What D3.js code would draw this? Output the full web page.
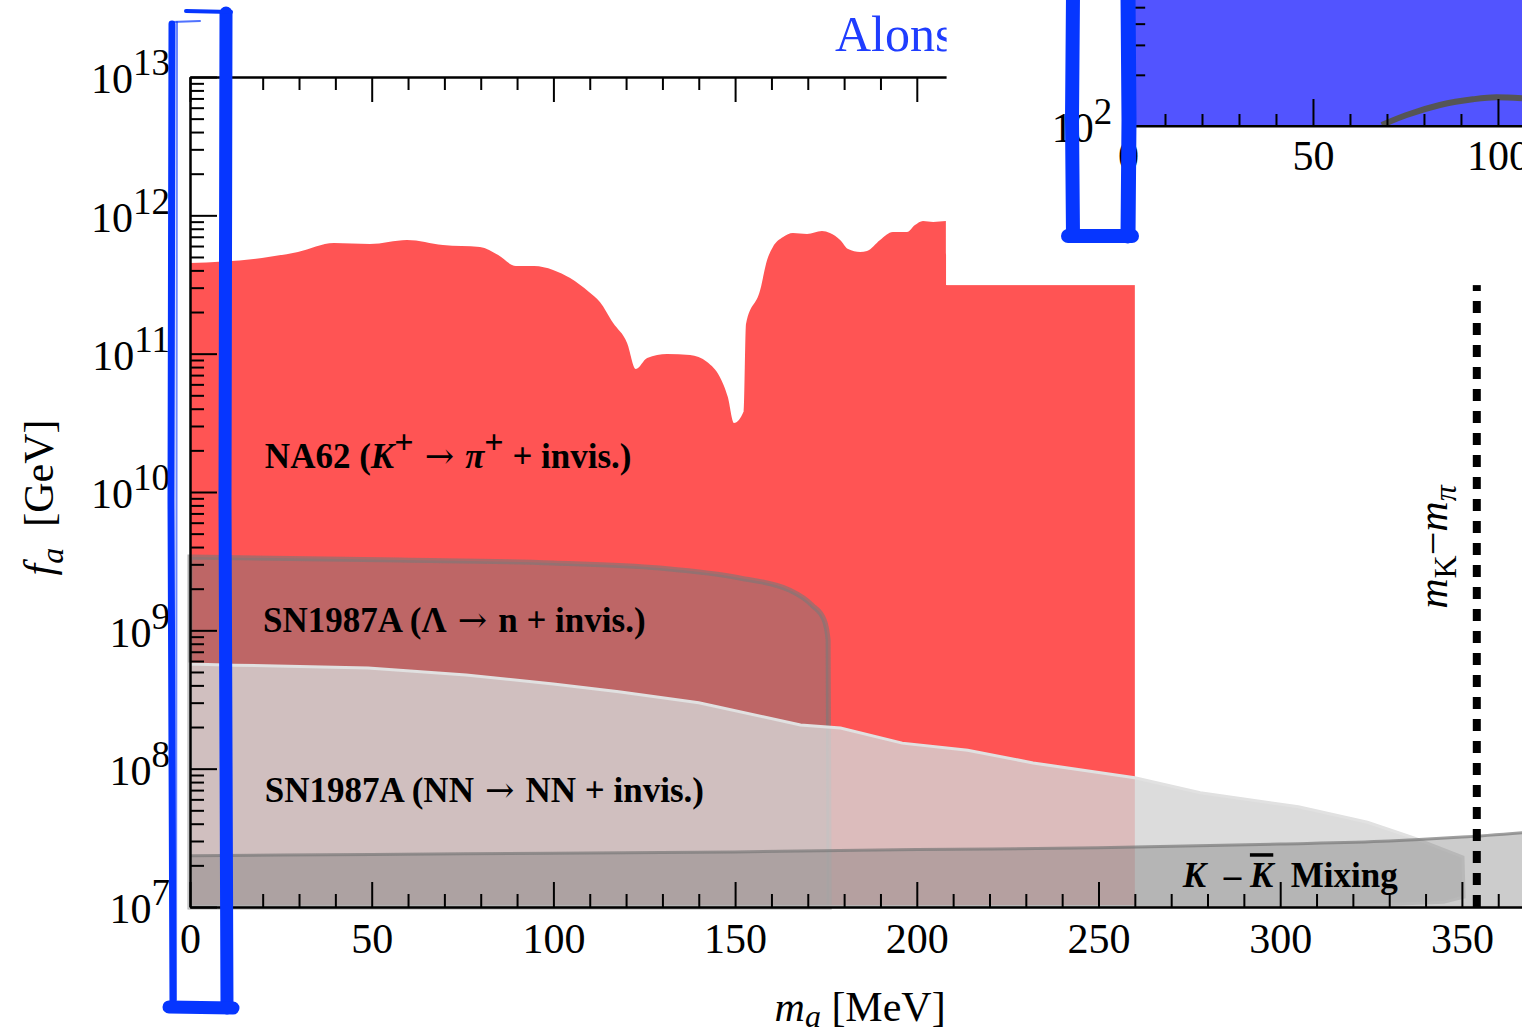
<!DOCTYPE html>
<html>
<head>
<meta charset="utf-8">
<script src="https://cdn.jsdelivr.net/npm/d3@7"></script>
<style>
  body { margin: 0; background: #fff; }
  svg { display: block; font-family: "Liberation Serif", "Times New Roman", serif; }
  .axis path, .axis line { stroke: #000; stroke-width: 2; }
  .arrow { font-family: "DejaVu Serif", serif; font-weight: normal; }
</style>
</head>
<body>
<div id="chart"></div>
<script>
// ---- data (m_a in MeV, f_a in GeV) ----
const na62Mass = [0, 19.8, 29.7, 39.6, 49.5, 59.7, 69.6, 79.8, 84.8, 89.7, 94.7, 99.9, 104.6, 109.8, 112.8, 116.4, 120.3, 122.7,
                  125.8, 131.3, 137.6, 142.3, 145.8, 148.0, 149.7, 152.4, 153.0, 156.9, 158.8, 160.4, 163.2, 165.9, 169.8, 173.9,
                  176.1, 178.9, 181.1, 184.4, 186.3, 189.9, 193.4, 197.3, 199.5, 201.7, 204.5, 208.0, 208.1, 260];
const na62Fa = [4.52e11, 4.92e11, 5.44e11, 6.31e11, 6.21e11, 6.64e11, 6.11e11, 5.91e11, 5.17e11, 4.30e11, 4.30e11, 4.03e11, 3.52e11,
                2.79e11, 2.36e11, 1.67e11, 1.19e11, 7.75e10, 9.3e10, 9.94e10, 9.78e10, 8.70e10, 6.78e10, 4.86e10, 3.16e10, 3.85e10,
                1.64e11, 2.88e11, 4.75e11, 5.91e11, 6.97e11, 7.45e11, 7.33e11, 7.71e11, 7.45e11, 6.64e11, 5.71e11, 5.44e11, 5.53e11,
                6.64e11, 7.57e11, 7.57e11, 8.5e11, 9.1e11, 8.95e11, 9.1e11, 3.13e11, 3.13e11];

const lambdaMass = [0, 57.8, 99.9, 129.3, 151.3, 165.1, 171.2, 174.5, 175.6, 175.9];
const lambdaFa = [3.39e9, 3.22e9, 3.07e9, 2.82e9, 2.39e9, 1.95e9, 1.52e9, 1.19e9, 8.5e8, 1e7];

const nnMass = [0, 12, 49, 76, 100, 118, 140, 168, 179, 196, 214, 232, 260, 278, 305, 324, 337, 350.3, 350.6, 345, 324, 300, 0];
const nnFa = [5.7e8, 5.6e8, 5.35e8, 4.75e8, 4.1e8, 3.6e8, 3.0e8, 2.07e8, 1.97e8, 1.53e8, 1.36e8, 1.1e8, 8.6e7, 6.7e7, 5.3e7,
              4.1e7, 3.15e7, 2.3e7, 1.18e7, 1.08e7, 1.03e7, 1.01e7, 1.0e7];

const kkMass = [0, 50, 100, 150, 200, 250, 300, 330, 350, 370];
const kkFa = [2.35e7, 2.4e7, 2.45e7, 2.5e7, 2.6e7, 2.68e7, 2.85e7, 3.0e7, 3.2e7, 3.5e7];

const mKminusMpi = 354.1;

// inset (cropped second panel)
const insetMass = [68.6, 75.3, 84.3, 93.2, 99.6, 106.5];
const insetVal = [101.4, 116, 132.9, 143.6, 147.5, 145.6];

const xMajor = [0, 50, 100, 150, 200, 250, 300, 350];
const yMajor = [1e7, 1e8, 1e9, 1e10, 1e11, 1e12, 1e13];

// ---- layout ----
const W = 1522, H = 1033;
const svg = d3.select("#chart").append("svg").attr("width", W).attr("height", H);

const x = d3.scaleLinear().domain([0, 370]).range([190, 190 + 370 * 3.634]);
const y = d3.scaleLog().domain([1e7, 1e13]).range([907, 77]);

const zip = (a, b) => a.map((v, i) => ({ m: v, f: b[i] }));

// NA62 region
svg.append("path")
   .datum(zip(na62Mass, na62Fa))
   .attr("fill", "#ff5454")
   .attr("d", d3.area().x(d => x(d.m)).y0(y(1e7)).y1(d => y(d.f)).curve(d3.curveMonotoneX));

// SN1987A Lambda region
svg.append("path")
   .datum(zip(lambdaMass, lambdaFa))
   .attr("fill", "rgb(123,123,123)").attr("fill-opacity", 0.49)
   .attr("stroke", "rgb(120,120,120)").attr("stroke-opacity", 0.6).attr("stroke-width", 5)
   .attr("d", d3.area().x(d => x(d.m)).y0(y(1e7)).y1(d => y(d.f)).curve(d3.curveMonotoneX));

// SN1987A NN region
svg.append("path")
   .datum(zip(nnMass, nnFa))
   .attr("fill", "rgb(212,212,212)").attr("fill-opacity", 0.81)
   .attr("stroke", "rgb(225,225,225)").attr("stroke-width", 3)
   .attr("d", d3.line().x(d => x(d.m)).y(d => y(d.f)).curve(d3.curveLinearClosed));

// K - Kbar mixing
svg.append("path")
   .datum(zip(kkMass, kkFa))
   .attr("fill", "rgb(110,110,110)").attr("fill-opacity", 0.35)
   .attr("d", d3.area().x(d => x(d.m)).y0(y(1e7)).y1(d => y(d.f)).curve(d3.curveMonotoneX));
svg.append("path")
   .datum(zip(kkMass, kkFa))
   .attr("fill", "none").attr("stroke", "rgb(120,120,120)").attr("stroke-opacity", 0.7).attr("stroke-width", 3)
   .attr("d", d3.line().x(d => x(d.m)).y(d => y(d.f)).curve(d3.curveMonotoneX));

// m_K - m_pi threshold
svg.append("line")
   .attr("x1", x(mKminusMpi)).attr("x2", x(mKminusMpi))
   .attr("y1", y(1e7)).attr("y2", y(1e13))
   .attr("stroke", "#000").attr("stroke-width", 8).attr("stroke-dasharray", "12,10");

// ---- axes ----
const minorX = d3.range(10, 370, 10).filter(v => v % 50 !== 0);
const minorY = [];
yMajor.slice(0, -1).forEach(p => { for (let k = 2; k <= 9; k++) minorY.push(p * k); });

function powerLabels(sel, expo) {
  sel.selectAll(".tick text")
     .attr("font-size", 42).attr("dy", "0.38em")
     .each(function(d) {
        const t = d3.select(this);
        t.append("tspan").text("10");
        t.append("tspan").attr("font-size", 37).attr("dy", -18).text(expo(d));
     });
}

const gBottom = svg.append("g").attr("class", "axis").attr("transform", "translate(0," + y(1e7) + ")");
gBottom.call(d3.axisBottom(x).tickValues(xMajor).tickSizeInner(-25).tickSizeOuter(0).tickPadding(16).tickFormat(d3.format("d")));
gBottom.selectAll(".tick text").attr("font-size", 42);
gBottom.append("g").call(d3.axisBottom(x).tickValues(minorX).tickSizeInner(-13).tickSizeOuter(0).tickFormat(""));

const gTop = svg.append("g").attr("class", "axis").attr("transform", "translate(0," + y(1e13) + ")");
gTop.call(d3.axisTop(x).tickValues(xMajor).tickSizeInner(-25).tickSizeOuter(0).tickFormat(""));
gTop.append("g").call(d3.axisTop(x).tickValues(minorX).tickSizeInner(-13).tickSizeOuter(0).tickFormat(""));

const gLeft = svg.append("g").attr("class", "axis").attr("transform", "translate(" + x(0) + ",0)");
gLeft.call(d3.axisLeft(y).tickValues(yMajor).tickSizeInner(-27).tickSizeOuter(0).tickPadding(20).tickFormat(() => ""));
powerLabels(gLeft, d => Math.round(Math.log10(d)));
gLeft.append("g").call(d3.axisLeft(y).tickValues(minorY).tickSizeInner(-14).tickSizeOuter(0).tickFormat(""));

svg.selectAll(".axis").attr("font-family", null).attr("font-size", null);
svg.selectAll(".axis text").attr("fill", "#000");

// axis titles
const yTitle = svg.append("text")
   .attr("transform", "translate(53," + y(Math.pow(10, 9.96)) + ") rotate(-90)")
   .attr("text-anchor", "middle").attr("font-size", 42);
yTitle.append("tspan").attr("font-style", "italic").text("f");
yTitle.append("tspan").attr("font-style", "italic").attr("font-size", 32).attr("dy", 10).text("a");
yTitle.append("tspan").attr("dy", -10).text("\u2002[GeV]");

const xTitle = svg.append("text")
   .attr("x", x(184.4)).attr("y", 1021)
   .attr("text-anchor", "middle").attr("font-size", 42);
xTitle.append("tspan").attr("font-style", "italic").text("m");
xTitle.append("tspan").attr("font-style", "italic").attr("font-size", 32).attr("dy", 6).text("a");
xTitle.append("tspan").attr("dy", -6).text(" [MeV]");

// ---- region labels ----
function label(mx, fy, size, parts) {
  const t = svg.append("text").attr("x", x(mx)).attr("y", y(fy))
               .attr("font-size", size).attr("font-weight", "bold");
  parts.forEach(p => {
    const s = t.append("tspan").text(p.t);
    if (p.i) s.attr("font-style", "italic");
    if (p.dy) s.attr("dy", p.dy);
    if (p.s) s.attr("font-size", p.s);
    if (p.c) s.attr("class", p.c);
    if (p.o) s.style("text-decoration", "overline");
  });
  return t;
}

const arrow = { t: " \u2192 ", c: "arrow" };
label(20.6, 1.49e10, 35, [
  { t: "NA62 (" }, { t: "K", i: 1 }, { t: "+", dy: -15, s: 34 }, { t: " \u2192 ", dy: 15, c: "arrow" },
  { t: "\u03c0", i: 1 }, { t: "+", dy: -15, s: 34 }, { t: " + invis.)", dy: 15 }
]);
label(20.1, 9.7e8, 35, [{ t: "SN1987A (\u039b" }, arrow, { t: "n + invis.)" }]);
label(20.6, 5.74e7, 35, [{ t: "SN1987A (NN" }, arrow, { t: "NN + invis.)" }]);
label(273.2, 1.39e7, 35, [
  { t: "K", i: 1 }, { t: "\u2002\u2013 " }, { t: "K", i: 1, o: 1 }, { t: "\u2002Mixing" }
]);

const thr = svg.append("text")
   .attr("transform", "translate(" + (x(mKminusMpi) - 30) + "," + y(4.0e9) + ") rotate(-90)")
   .attr("text-anchor", "middle").attr("font-size", 42);
thr.append("tspan").attr("font-style", "italic").text("m");
thr.append("tspan").attr("font-size", 32).attr("dy", 9).text("K");
thr.append("tspan").attr("dy", -9).text("\u2212");
thr.append("tspan").attr("font-style", "italic").text("m");
thr.append("tspan").attr("font-style", "italic").attr("font-size", 32).attr("dy", 9).text("\u03c0");

// cropped title text from neighbouring panel
svg.append("text").attr("x", 835).attr("y", 51).attr("font-size", 50)
   .attr("fill", "#1f3dff").text("Alonso");

// blank patch over the top right corner
svg.append("rect").attr("x", x(208.2)).attr("y", 0).attr("width", W).attr("height", y(3.13e11)).attr("fill", "#fff");

// ---- inset (cropped) ----
const xi = d3.scaleLinear().domain([0, 106.5]).range([1128, 1522]);
const yi = d3.scaleLog().domain([100, 1000]).range([126, -44]);
const inset = svg.append("g");
inset.append("clipPath").attr("id", "insetClip")
     .append("rect").attr("x", xi(1.4)).attr("y", 0).attr("width", W).attr("height", yi(100));
const ig = inset.append("g").attr("clip-path", "url(#insetClip)");
ig.append("rect").attr("x", xi(1.4)).attr("y", yi(1000)).attr("width", xi(120) - xi(1.4))
  .attr("height", yi(100) - yi(1000)).attr("fill", "#5254ff");
ig.append("path").datum(zip(insetMass, insetVal))
  .attr("fill", "none").attr("stroke", "#555").attr("stroke-width", 6)
  .attr("d", d3.line().x(d => xi(d.m)).y(d => yi(d.f)).curve(d3.curveMonotoneX));

const iB = inset.append("g").attr("class", "axis").attr("transform", "translate(0," + yi(100) + ")");
iB.call(d3.axisBottom(xi).tickValues([0, 50, 100]).tickSizeInner(-27).tickSizeOuter(0).tickPadding(14).tickFormat(d3.format("d")));
iB.selectAll(".tick text").attr("font-size", 42);
iB.append("g").call(d3.axisBottom(xi).tickValues([10, 20, 30, 40, 60, 70, 80, 90]).tickSizeInner(-12).tickSizeOuter(0).tickFormat(""));
iB.select(".domain").attr("d", "M" + xi(1.4) + ",0H" + W);
const iL = inset.append("g").attr("class", "axis").attr("transform", "translate(" + xi(1.4) + ",0)");
iL.call(d3.axisLeft(yi).tickValues([100]).tickSizeInner(0).tickSizeOuter(0).tickPadding(21).tickFormat(() => ""));
powerLabels(iL, () => 2);
iL.append("g").call(d3.axisLeft(yi).tickValues([200, 300, 400, 500]).tickSizeInner(-12).tickSizeOuter(0).tickFormat(""));
iL.select(".domain").attr("d", "M0,0V" + yi(100));
inset.selectAll(".axis").attr("font-family", null).attr("font-size", null);
inset.selectAll(".axis text").attr("fill", "#000");

// ---- hand-drawn highlight boxes ----
const blue = "#0636ff";
const pen = svg.append("g").attr("fill", "none").attr("stroke", blue)
               .attr("stroke-linecap", "round").attr("stroke-linejoin", "round");
const stroke = (pts, w, op) => pen.append("path").attr("d", d3.line()(pts))
                                  .attr("stroke-width", w).attr("stroke-opacity", op || 1);
// box around the y-axis tick labels
stroke([[172, 24], [171, 500], [173, 1008]], 7);
stroke([[177, 22], [176, 1000]], 2, 0.6);
stroke([[226, 13], [225, 500], [227, 1008]], 13);
stroke([[186, 11], [231, 12]], 4);
stroke([[172, 22], [200, 21]], 2, 0.7);
stroke([[169, 1007], [233, 1008]], 13);
// box around the inset y labels
stroke([[1073, -5], [1072, 120], [1073, 236]], 14);
stroke([[1128, -5], [1129, 120], [1128, 236]], 15);
stroke([[1068, 236], [1132, 236]], 14);
</script>
</body>
</html>
